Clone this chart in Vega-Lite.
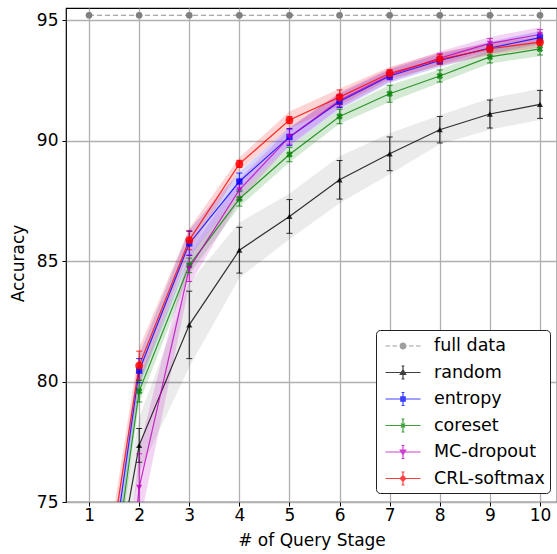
{
  "$schema": "https://vega.github.io/schema/vega-lite/v6.json",
  "width": 491,
  "height": 494,
  "autosize": {"type": "none"},
  "padding": {"left": 66, "top": 8, "right": 0, "bottom": 52},
  "background": "white",
  "config": {
    "view": {"stroke": "black", "strokeWidth": 1.2},
    "font": "DejaVu Sans",
    "axis": {
      "labelFont": "DejaVu Sans", "labelFontSize": 17, "labelColor": "black",
      "titleFont": "DejaVu Sans", "titleFontSize": 17, "titleFontWeight": "normal", "titleColor": "black",
      "tickColor": "black", "tickSize": 4, "tickWidth": 1, "domain": false,
      "gridColor": "#b0b0b0", "gridWidth": 1.3, "gridOpacity": 1
    },
    "legend": {
      "labelFont": "DejaVu Sans", "labelFontSize": 17, "labelColor": "black"
    }
  },
  "data": {
    "values": [
      {"m": "full data", "x": 1, "y": 95.2, "lo": 95.2, "hi": 95.2, "blo": 95.2, "bhi": 95.2},
      {"m": "full data", "x": 2, "y": 95.2, "lo": 95.2, "hi": 95.2, "blo": 95.2, "bhi": 95.2},
      {"m": "full data", "x": 3, "y": 95.2, "lo": 95.2, "hi": 95.2, "blo": 95.2, "bhi": 95.2},
      {"m": "full data", "x": 4, "y": 95.2, "lo": 95.2, "hi": 95.2, "blo": 95.2, "bhi": 95.2},
      {"m": "full data", "x": 5, "y": 95.2, "lo": 95.2, "hi": 95.2, "blo": 95.2, "bhi": 95.2},
      {"m": "full data", "x": 6, "y": 95.2, "lo": 95.2, "hi": 95.2, "blo": 95.2, "bhi": 95.2},
      {"m": "full data", "x": 7, "y": 95.2, "lo": 95.2, "hi": 95.2, "blo": 95.2, "bhi": 95.2},
      {"m": "full data", "x": 8, "y": 95.2, "lo": 95.2, "hi": 95.2, "blo": 95.2, "bhi": 95.2},
      {"m": "full data", "x": 9, "y": 95.2, "lo": 95.2, "hi": 95.2, "blo": 95.2, "bhi": 95.2},
      {"m": "full data", "x": 10, "y": 95.2, "lo": 95.2, "hi": 95.2, "blo": 95.2, "bhi": 95.2},

      {"m": "random", "x": 1, "y": 65.8, "lo": 64.8, "hi": 66.8, "blo": 64.3, "bhi": 67.3},
      {"m": "random", "x": 2, "y": 77.35, "lo": 76.65, "hi": 78.05, "blo": 76.2, "bhi": 78.5},
      {"m": "random", "x": 3, "y": 82.35, "lo": 80.95, "hi": 83.75, "blo": 80.6, "bhi": 84.1},
      {"m": "random", "x": 4, "y": 85.45, "lo": 84.5, "hi": 86.4, "blo": 84.3, "bhi": 86.6},
      {"m": "random", "x": 5, "y": 86.85, "lo": 86.15, "hi": 87.55, "blo": 85.9, "bhi": 87.8},
      {"m": "random", "x": 6, "y": 88.37, "lo": 87.57, "hi": 89.17, "blo": 87.4, "bhi": 89.35},
      {"m": "random", "x": 7, "y": 89.45, "lo": 88.75, "hi": 90.15, "blo": 88.6, "bhi": 90.3},
      {"m": "random", "x": 8, "y": 90.45, "lo": 89.9, "hi": 91.0, "blo": 89.85, "bhi": 91.05},
      {"m": "random", "x": 9, "y": 91.1, "lo": 90.52, "hi": 91.68, "blo": 90.45, "bhi": 91.75},
      {"m": "random", "x": 10, "y": 91.5, "lo": 90.92, "hi": 92.08, "blo": 90.85, "bhi": 92.15},

      {"m": "entropy", "x": 1, "y": 65.8, "lo": 65.2, "hi": 66.4, "blo": 65.0, "bhi": 66.6},
      {"m": "entropy", "x": 2, "y": 80.45, "lo": 79.95, "hi": 80.95, "blo": 79.8, "bhi": 81.1},
      {"m": "entropy", "x": 3, "y": 85.73, "lo": 85.23, "hi": 86.23, "blo": 85.15, "bhi": 86.3},
      {"m": "entropy", "x": 4, "y": 88.3, "lo": 87.95, "hi": 88.65, "blo": 87.9, "bhi": 88.7},
      {"m": "entropy", "x": 5, "y": 90.15, "lo": 89.8, "hi": 90.5, "blo": 89.75, "bhi": 90.55},
      {"m": "entropy", "x": 6, "y": 91.62, "lo": 91.37, "hi": 91.87, "blo": 91.3, "bhi": 91.95},
      {"m": "entropy", "x": 7, "y": 92.68, "lo": 92.53, "hi": 92.83, "blo": 92.4, "bhi": 92.95},
      {"m": "entropy", "x": 8, "y": 93.32, "lo": 93.17, "hi": 93.47, "blo": 93.05, "bhi": 93.6},
      {"m": "entropy", "x": 9, "y": 93.84, "lo": 93.69, "hi": 93.99, "blo": 93.6, "bhi": 94.1},
      {"m": "entropy", "x": 10, "y": 94.27, "lo": 94.12, "hi": 94.42, "blo": 94.0, "bhi": 94.55},

      {"m": "coreset", "x": 1, "y": 64.8, "lo": 64.2, "hi": 65.4, "blo": 64.0, "bhi": 65.6},
      {"m": "coreset", "x": 2, "y": 79.6, "lo": 79.15, "hi": 80.05, "blo": 79.1, "bhi": 80.1},
      {"m": "coreset", "x": 3, "y": 84.82, "lo": 84.52, "hi": 85.12, "blo": 84.45, "bhi": 85.2},
      {"m": "coreset", "x": 4, "y": 87.58, "lo": 87.28, "hi": 87.88, "blo": 87.25, "bhi": 87.9},
      {"m": "coreset", "x": 5, "y": 89.42, "lo": 89.12, "hi": 89.72, "blo": 89.1, "bhi": 89.75},
      {"m": "coreset", "x": 6, "y": 91.0, "lo": 90.7, "hi": 91.3, "blo": 90.7, "bhi": 91.3},
      {"m": "coreset", "x": 7, "y": 91.94, "lo": 91.59, "hi": 92.29, "blo": 91.6, "bhi": 92.3},
      {"m": "coreset", "x": 8, "y": 92.68, "lo": 92.43, "hi": 92.93, "blo": 92.4, "bhi": 92.95},
      {"m": "coreset", "x": 9, "y": 93.47, "lo": 93.22, "hi": 93.72, "blo": 93.2, "bhi": 93.75},
      {"m": "coreset", "x": 10, "y": 93.8, "lo": 93.55, "hi": 94.05, "blo": 93.5, "bhi": 94.1},

      {"m": "MC-dropout", "x": 1, "y": 55.0, "lo": 53.6, "hi": 56.4, "blo": 53.4, "bhi": 56.6},
      {"m": "MC-dropout", "x": 2, "y": 75.6, "lo": 74.2, "hi": 77.0, "blo": 74.0, "bhi": 77.2},
      {"m": "MC-dropout", "x": 3, "y": 84.7, "lo": 84.15, "hi": 85.25, "blo": 84.0, "bhi": 85.4},
      {"m": "MC-dropout", "x": 4, "y": 87.95, "lo": 87.55, "hi": 88.35, "blo": 87.5, "bhi": 88.4},
      {"m": "MC-dropout", "x": 5, "y": 90.15, "lo": 89.85, "hi": 90.45, "blo": 89.8, "bhi": 90.5},
      {"m": "MC-dropout", "x": 6, "y": 91.67, "lo": 91.42, "hi": 91.92, "blo": 91.35, "bhi": 92.0},
      {"m": "MC-dropout", "x": 7, "y": 92.72, "lo": 92.52, "hi": 92.92, "blo": 92.45, "bhi": 93.0},
      {"m": "MC-dropout", "x": 8, "y": 93.42, "lo": 93.22, "hi": 93.62, "blo": 93.15, "bhi": 93.7},
      {"m": "MC-dropout", "x": 9, "y": 94.03, "lo": 93.83, "hi": 94.23, "blo": 93.75, "bhi": 94.3},
      {"m": "MC-dropout", "x": 10, "y": 94.4, "lo": 94.2, "hi": 94.6, "blo": 94.1, "bhi": 94.7},

      {"m": "CRL-softmax", "x": 1, "y": 67.3, "lo": 66.7, "hi": 67.9, "blo": 66.5, "bhi": 68.1},
      {"m": "CRL-softmax", "x": 2, "y": 80.66, "lo": 80.06, "hi": 81.26, "blo": 79.95, "bhi": 81.4},
      {"m": "CRL-softmax", "x": 3, "y": 85.87, "lo": 85.47, "hi": 86.27, "blo": 85.4, "bhi": 86.35},
      {"m": "CRL-softmax", "x": 4, "y": 89.03, "lo": 88.88, "hi": 89.18, "blo": 88.75, "bhi": 89.3},
      {"m": "CRL-softmax", "x": 5, "y": 90.85, "lo": 90.7, "hi": 91.0, "blo": 90.5, "bhi": 91.2},
      {"m": "CRL-softmax", "x": 6, "y": 91.8, "lo": 91.5, "hi": 92.1, "blo": 91.45, "bhi": 92.15},
      {"m": "CRL-softmax", "x": 7, "y": 92.79, "lo": 92.64, "hi": 92.94, "blo": 92.55, "bhi": 93.05},
      {"m": "CRL-softmax", "x": 8, "y": 93.37, "lo": 93.17, "hi": 93.57, "blo": 93.1, "bhi": 93.65},
      {"m": "CRL-softmax", "x": 9, "y": 93.81, "lo": 93.66, "hi": 93.96, "blo": 93.55, "bhi": 94.05},
      {"m": "CRL-softmax", "x": 10, "y": 94.08, "lo": 93.93, "hi": 94.23, "blo": 93.85, "bhi": 94.3}
    ]
  },
  "encoding": {
    "x": {
      "field": "x", "type": "quantitative",
      "scale": {"domain": [0.54, 10.34], "nice": false, "zero": false},
      "axis": {"values": [1,2,3,4,5,6,7,8,9,10], "title": "# of Query Stage", "labelPadding": 1, "titlePadding": 9, "grid": true}
    }
  },
  "layer": [
    {
      "mark": {"type": "point", "filled": true, "opacity": 0, "size": 10},
      "encoding": {
        "y": {"field": "y", "type": "quantitative",
              "scale": {"domain": [75, 95.5], "nice": false, "zero": false},
              "axis": {"values": [75,80,85,90,95], "title": "Accuracy", "labelPadding": 4, "titlePadding": 9, "titleY": 255, "grid": true}},
        "color": {"field": "m", "type": "nominal",
                  "scale": {"domain": ["full data","random","entropy","coreset","MC-dropout","CRL-softmax"],
                            "range": ["#808080","#000000","#0000ff","#008000","#bf00bf","#ff0000"]},
                  "legend": {
                    "title": null, "orient": "none", "legendX": 310, "legendY": 322,
                    "symbolSize": 400, "symbolStrokeWidth": 1.2, "symbolOpacity": 1,
                    "symbolOffset": 11, "labelOffset": 20, "rowPadding": 6.5, "padding": 5,
                    "strokeColor": "#222222", "fillColor": "white", "cornerRadius": 4,
                    "labelFontSize": 17.5, "labelFont": "DejaVu Sans",
                    "encode": {"symbols": {"update": {
                      "stroke": {"scale": "color", "field": "value"},
                      "fill": {"scale": "color", "field": "value"},
                      "shape": {"scale": "shape", "field": "value"},
                      "opacity": {"value": 0.75},
                      "fillOpacity": {"value": 1},
                      "strokeOpacity": {"value": 1},
                      "strokeDash": {"value": [1, 0]},
                      "strokeWidth": {"value": 1.2}
                    }}}
                  }},
        "shape": {"field": "m", "type": "nominal",
                  "scale": {"domain": ["full data","random","entropy","coreset","MC-dropout","CRL-softmax"],
                            "range": [
                              "M-1.75,0H-1.3M-1.05,0H-0.6M0.6,0H1.05M1.3,0H1.75M0.3,0L0.21,0.21L0,0.3L-0.21,0.21L-0.3,0L-0.21,-0.21L0,-0.3L0.21,-0.21Z",
                              "M-1.75,0H1.75M0,-0.65V0.65M-0.15,-0.65H0.15M-0.15,0.65H0.15M0,-0.28L0.28,0.2L-0.28,0.2Z",
                              "M-1.75,0H1.75M0,-0.65V0.65M-0.15,-0.65H0.15M-0.15,0.65H0.15M-0.22,-0.22H0.22V0.22H-0.22Z",
                              "M-1.75,0H1.75M0,-0.65V0.65M-0.15,-0.65H0.15M-0.15,0.65H0.15M-0.2,-0.2L0.2,0.2M-0.2,0.2L0.2,-0.2",
                              "M-1.75,0H1.75M0,-0.65V0.65M-0.15,-0.65H0.15M-0.15,0.65H0.15M0,0.28L0.28,-0.2L-0.28,-0.2Z",
                              "M-1.75,0H1.75M0,-0.65V0.65M-0.15,-0.65H0.15M-0.15,0.65H0.15M0,-0.28L0.28,0L0,0.28L-0.28,0Z"
                            ]}}
      }
    },
    {
      "transform": [{"filter": "datum.m == 'random'"}],
      "mark": {"type": "area", "clip": true, "color": "#000000", "fillOpacity": 0.08, "opacity": 1},
      "encoding": {
        "y": {"field": "blo", "type": "quantitative"},
        "y2": {"field": "bhi"}
      }
    },
    {
      "transform": [{"filter": "datum.m != 'full data' && datum.m != 'random'"}],
      "mark": {"type": "area", "clip": true, "fillOpacity": 0.17, "opacity": 1},
      "encoding": {
        "y": {"field": "blo", "type": "quantitative"},
        "y2": {"field": "bhi"},
        "color": {"field": "m", "type": "nominal"}
      }
    },
    {
      "transform": [{"filter": "datum.m != 'full data'"}],
      "mark": {"type": "line", "clip": true, "strokeWidth": 1.2, "opacity": 0.8},
      "encoding": {
        "y": {"field": "y", "type": "quantitative"},
        "color": {"field": "m", "type": "nominal"}
      }
    },
    {
      "transform": [{"filter": "datum.m == 'full data'"}],
      "mark": {"type": "line", "clip": true, "strokeWidth": 1.2, "opacity": 0.9, "color": "#808080", "strokeDash": [5, 3]},
      "encoding": {
        "y": {"field": "y", "type": "quantitative"}
      }
    },
    {
      "transform": [{"filter": "datum.m != 'full data' && datum.x > 1"}],
      "mark": {"type": "rule", "clip": true, "strokeWidth": 1, "opacity": 0.8},
      "encoding": {
        "y": {"field": "lo", "type": "quantitative"},
        "y2": {"field": "hi"},
        "color": {"field": "m", "type": "nominal"}
      }
    },
    {
      "transform": [{"filter": "datum.m != 'full data' && datum.x > 1"}],
      "mark": {"type": "tick", "clip": true, "orient": "horizontal", "size": 6, "thickness": 1, "opacity": 0.8},
      "encoding": {
        "y": {"field": "lo", "type": "quantitative"},
        "color": {"field": "m", "type": "nominal"}
      }
    },
    {
      "transform": [{"filter": "datum.m != 'full data' && datum.x > 1"}],
      "mark": {"type": "tick", "clip": true, "orient": "horizontal", "size": 6, "thickness": 1, "opacity": 0.8},
      "encoding": {
        "y": {"field": "hi", "type": "quantitative"},
        "color": {"field": "m", "type": "nominal"}
      }
    },
    {
      "transform": [{"filter": "datum.m == 'full data'"}],
      "mark": {"type": "point", "shape": "circle", "filled": true, "size": 45, "opacity": 1, "clip": true},
      "encoding": {"y": {"field": "y", "type": "quantitative"}, "color": {"field": "m", "type": "nominal"}}
    },
    {
      "transform": [{"filter": "datum.m == 'random'"}],
      "mark": {"type": "point", "shape": "triangle-up", "filled": true, "size": 38, "opacity": 0.8, "clip": true},
      "encoding": {"y": {"field": "y", "type": "quantitative"}, "color": {"field": "m", "type": "nominal"}}
    },
    {
      "transform": [{"filter": "datum.m == 'entropy'"}],
      "mark": {"type": "point", "shape": "square", "filled": true, "size": 40, "opacity": 0.8, "clip": true},
      "encoding": {"y": {"field": "y", "type": "quantitative"}, "color": {"field": "m", "type": "nominal"}}
    },
    {
      "transform": [{"filter": "datum.m == 'coreset'"}],
      "mark": {"type": "point", "shape": "cross", "angle": 45, "filled": true, "size": 45, "opacity": 0.8, "clip": true},
      "encoding": {"y": {"field": "y", "type": "quantitative"}, "color": {"field": "m", "type": "nominal"}}
    },
    {
      "transform": [{"filter": "datum.m == 'MC-dropout'"}],
      "mark": {"type": "point", "shape": "triangle-down", "filled": true, "size": 38, "opacity": 0.8, "clip": true},
      "encoding": {"y": {"field": "y", "type": "quantitative"}, "color": {"field": "m", "type": "nominal"}}
    },
    {
      "transform": [{"filter": "datum.m == 'CRL-softmax'"}],
      "mark": {"type": "point", "shape": "circle", "filled": true, "size": 60, "opacity": 0.85, "clip": true},
      "encoding": {"y": {"field": "y", "type": "quantitative"}, "color": {"field": "m", "type": "nominal"}}
    }
  ]
}
